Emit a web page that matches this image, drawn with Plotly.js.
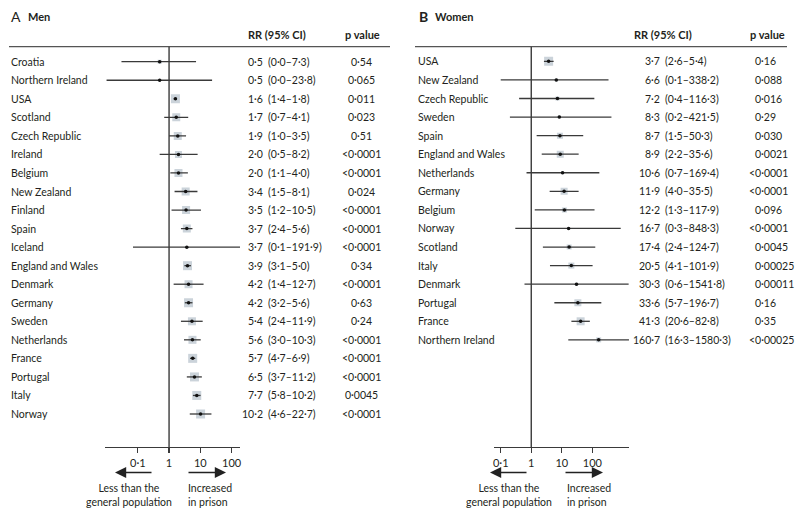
<!DOCTYPE html>
<html>
<head>
<meta charset="utf-8">
<script src="https://cdn.plot.ly/plotly-3.0.1.min.js"></script>
<style>html,body{margin:0;padding:0;background:#fff}#chart{width:800px;height:518px}</style>
</head>
<body>
<div id="chart"></div>
<script>
// ---------- DATA ----------
const menCountries = ["Croatia","Northern Ireland","USA","Scotland","Czech Republic","Ireland","Belgium","New Zealand","Finland","Spain","Iceland","England and Wales","Denmark","Germany","Sweden","Netherlands","France","Portugal","Italy","Norway"];
const menRR  = [0.5,0.5,1.6,1.7,1.9,2.0,2.0,3.4,3.5,3.7,3.7,3.9,4.2,4.2,5.4,5.6,5.7,6.5,7.7,10.2];
const menLo  = [0.03,0.01,1.4,0.7,1.0,0.5,1.1,1.5,1.2,2.4,0.07,3.1,1.4,3.2,2.4,3.0,4.7,3.7,5.8,4.6];
const menHi  = [7.3,23.8,1.8,4.1,3.5,8.2,4.0,8.1,10.5,5.6,191.9,5.0,12.7,5.6,11.9,10.3,6.9,11.2,10.2,22.7];
const menP   = ["0·54","0·065","0·011","0·023","0·51","<0·0001","<0·0001","0·024","<0·0001","<0·0001","<0·0001","0·34","<0·0001","0·63","0·24","<0·0001","<0·0001","<0·0001","0·0045","<0·0001"];
const menWeight = [4,2,9,8,8,7,8,8,8,8,2,9,8,9,8,8,9,9,9,9];

const womenCountries = ["USA","New Zealand","Czech Republic","Sweden","Spain","England and Wales","Netherlands","Germany","Belgium","Norway","Scotland","Italy","Denmark","Portugal","France","Northern Ireland"];
const womenRR = [3.7,6.6,7.2,8.3,8.7,8.9,10.6,11.9,12.2,16.7,17.4,20.5,30.3,33.6,41.3,160.7];
const womenLo = [2.6,0.1,0.4,0.2,1.5,2.2,0.7,4.0,1.3,0.3,2.4,4.1,0.6,5.7,20.6,16.3];
const womenHi = [5.4,338.2,116.3,421.5,50.3,35.6,169.4,35.5,117.9,848.3,124.7,101.9,1541.8,196.7,82.8,1580.3];
const womenP  = ["0·16","0·088","0·016","0·29","0·030","0·0021","<0·0001","<0·0001","0·096","<0·0001","0·0045","0·00025","0·00011","0·16","0·35","<0·00025"];
const womenWeight = [9,3,4,3,6,7,3,7,5,3,5,6,3,7,8,5];

const tickVals = [0.1,1,10,100];
const tickText = ["0·1","1","10","100"];

// ---------- STYLE ----------
const FONT = "Lato, 'Open Sans', sans-serif";
const TXT = "#231f20";
const LINE = "#3a3a3a";
const BOX = "#b5c0cb";
const W = 800, H = 518;
const FS = 10.5;
const px = v => v / W;
const py = v => 1 - v / H;
const fmt = v => v.toFixed(1).replace('.', '·');

function panelTraces(rr, lo, hi, wt, xa, ya) {
  const idx = rr.map((_, i) => i);
  const lx = [], ly = [];
  idx.forEach(i => { lx.push(lo[i], hi[i], null); ly.push(i, i, null); });
  return [
    {type:'scatter', mode:'markers', x: rr, y: idx, xaxis: xa, yaxis: ya,
     marker:{symbol:'square', size: wt, color: BOX, line:{width:0}}, hoverinfo:'skip'},
    {type:'scatter', mode:'lines', x: lx, y: ly, xaxis: xa, yaxis: ya,
     line:{color: LINE, width: 1.3}, hoverinfo:'skip', connectgaps:false},
    {type:'scatter', mode:'markers', x: rr, y: idx, xaxis: xa, yaxis: ya,
     marker:{symbol:'circle', size: 3.5, color: '#111'}, hoverinfo:'skip'}
  ];
}

function panelAnnots(countries, rr, lo, hi, p, yref, o) {
  const a = [];
  const f = {family: FONT, size: FS, color: TXT};
  countries.forEach((c, i) => {
    a.push({xref:'paper', yref, x: px(o.label), y: i, text: c, showarrow:false, xanchor:'left', yanchor:'middle', font:f});
    a.push({xref:'paper', yref, x: px(o.paren - 1.5), y: i, text: fmt(rr[i]), showarrow:false, xanchor:'right', yanchor:'middle', font:f});
    a.push({xref:'paper', yref, x: px(o.paren), y: i, text: '(' + fmt(lo[i]) + '–' + fmt(hi[i]) + ')', showarrow:false, xanchor:'left', yanchor:'middle', font:f});
    if (o.pAlign === 'center') {
      a.push({xref:'paper', yref, x: px(o.p), y: i, text: p[i], showarrow:false, xanchor:'center', yanchor:'middle', font:f});
    } else {
      const shift = p[i].startsWith('<') ? -6 : 0;
      a.push({xref:'paper', yref, x: px(o.p + shift), y: i, text: p[i], showarrow:false, xanchor:'left', yanchor:'middle', font:f});
    }
  });
  const hf = {family: FONT, size: 11, color: TXT};
  a.push({xref:'paper', yref:'paper', x: px(o.hRR), y: py(35), text:'<b>RR (95% CI)</b>', showarrow:false, xanchor:'center', yanchor:'middle', font:hf});
  a.push({xref:'paper', yref:'paper', x: px(o.hP), y: py(35), text:'<b>p value</b>', showarrow:false, xanchor:'center', yanchor:'middle', font:hf});
  // arrows
  a.push({xref:'paper', yref:'paper', x: px(o.arrL[0]), y: py(472.5), ax: o.arrL[1]-o.arrL[0], ay: 0, axref:'pixel', ayref:'pixel', text:'', showarrow:true, arrowhead:2, arrowsize:1.4, arrowwidth:1.6, arrowcolor:'#222'});
  a.push({xref:'paper', yref:'paper', x: px(o.arrR[1]), y: py(472.5), ax: o.arrR[0]-o.arrR[1], ay: 0, axref:'pixel', ayref:'pixel', text:'', showarrow:true, arrowhead:2, arrowsize:1.4, arrowwidth:1.6, arrowcolor:'#222'});
  a.push({xref:'paper', yref:'paper', x: px(o.lessC), y: py(494.5), text:'Less than the<br>general population', showarrow:false, xanchor:'center', yanchor:'middle', align:'center', font:{family:FONT,size:FS,color:TXT}});
  a.push({xref:'paper', yref:'paper', x: px(o.incL), y: py(494.5), text:'Increased<br>in prison', showarrow:false, xanchor:'left', yanchor:'middle', align:'left', font:{family:FONT,size:FS,color:TXT}});
  return a;
}

const traces = [
  ...panelTraces(menRR, menLo, menHi, menWeight, 'x', 'y'),
  ...panelTraces(womenRR, womenLo, womenHi, womenWeight, 'x2', 'y2')
];

const annotations = [
  ...panelAnnots(menCountries, menRR, menLo, menHi, menP, 'y',
    {label: 9, paren: 266, p: 361, pAlign:'center', hRR: 277, hP: 362, arrL:[115,153], arrR:[187,226], lessC:128.5, incL:185.5}),
  ...panelAnnots(womenCountries, womenRR, womenLo, womenHi, womenP, 'y2',
    {label: 416, paren: 663, p: 753, pAlign:'left', hRR: 663, hP: 767, arrL:[490,528], arrR:[564,603], lessC:508.5, incL:564.5}),
  {xref:'paper', yref:'paper', x: px(9), y: py(16), text:'A', showarrow:false, xanchor:'left', yanchor:'middle', font:{family:FONT,size:14,color:TXT}},
  {xref:'paper', yref:'paper', x: px(26), y: py(16.5), text:'<b>Men</b>', showarrow:false, xanchor:'left', yanchor:'middle', font:{family:FONT,size:11,color:TXT}},
  {xref:'paper', yref:'paper', x: px(417), y: py(16), text:'<b>B</b>', showarrow:false, xanchor:'left', yanchor:'middle', font:{family:FONT,size:14,color:TXT}},
  {xref:'paper', yref:'paper', x: px(433), y: py(16.5), text:'<b>Women</b>', showarrow:false, xanchor:'left', yanchor:'middle', font:{family:FONT,size:11,color:TXT}}
];

const yDomain = [1 - 447/H, 1 - 46.7/H];
const axBase = {
  type:'log', showline:true, linecolor: LINE, linewidth:1.3, ticks:'outside', ticklen:5, tickwidth:1.2, tickcolor: LINE,
  tickvals: tickVals, ticktext: tickText, showgrid:false, zeroline:false, fixedrange:true,
  tickfont:{family:FONT, size:11, color:TXT}
};

const layout = {
  width: W, height: H, margin:{l:0,r:0,t:0,b:0}, paper_bgcolor:'#fff', plot_bgcolor:'rgba(0,0,0,0)',
  showlegend:false, font:{family:FONT, color:TXT},
  xaxis: Object.assign({}, axBase, {domain:[px(105), px(240)], range:[-2.05, 2.27], anchor:'y'}),
  yaxis: {domain: yDomain, range:[20.78, -0.81], visible:false, fixedrange:true, anchor:'x'},
  xaxis2: Object.assign({}, axBase, {domain:[px(494), px(629)], range:[-1.22, 3.2], anchor:'y2'}),
  yaxis2: {domain: yDomain, range:[20.77, -0.79], visible:false, fixedrange:true, anchor:'x2'},
  shapes: [
    {type:'line', xref:'paper', yref:'paper', x0:px(9), x1:px(390), y0:py(46.7), y1:py(46.7), line:{color:'#555', width:1.2}},
    {type:'line', xref:'paper', yref:'paper', x0:px(415), x1:px(787), y0:py(46.7), y1:py(46.7), line:{color:'#555', width:1.2}},
    {type:'line', xref:'x', yref:'y domain', x0:1, x1:1, y0:0, y1:1, line:{color:LINE, width:1.4}},
    {type:'line', xref:'x2', yref:'y2 domain', x0:1, x1:1, y0:0, y1:1, line:{color:LINE, width:1.4}}
  ],
  annotations
};

Plotly.newPlot('chart', traces, layout, {displayModeBar:false, staticPlot:true});
</script>
</body>
</html>
